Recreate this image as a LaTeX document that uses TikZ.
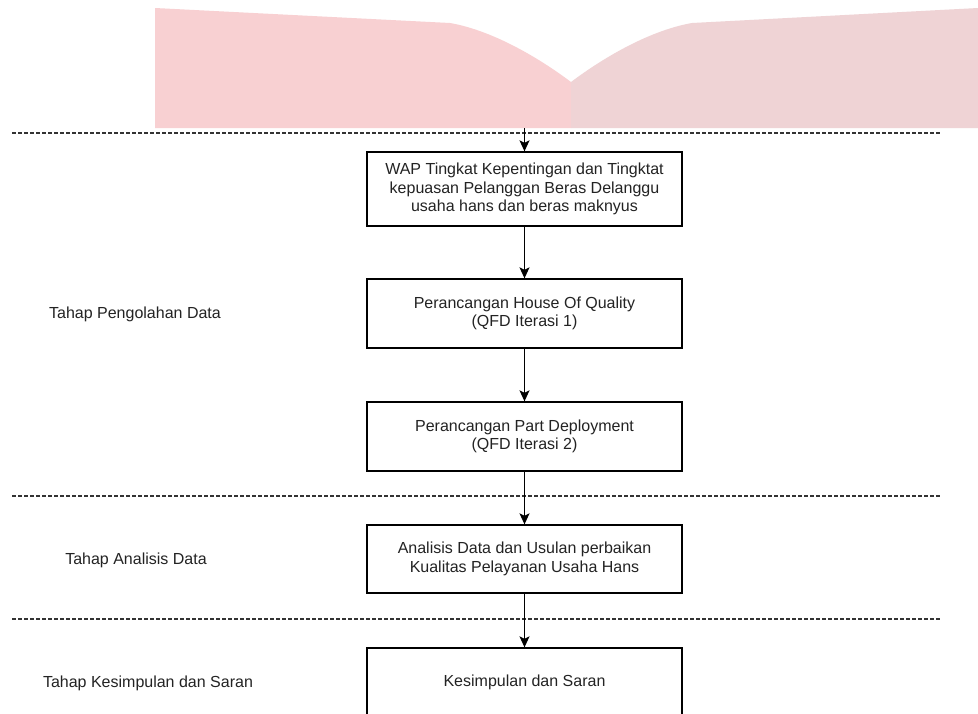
\documentclass[tikz,border=0pt]{standalone}
\usepackage{fontspec}
\setmainfont{Liberation Sans}
\usetikzlibrary{arrows.meta}
\definecolor{pinkL}{RGB}{248,208,210}
\definecolor{pinkR}{RGB}{239,211,213}
\definecolor{txt}{RGB}{35,35,35}
\begin{document}
\begin{tikzpicture}[x=1pt,y=-1pt,
  stepbox/.style={draw=black,line width=1.3pt,minimum width=315pt,align=center,text=txt,
    font=\fontsize{16}{18.5}\selectfont,inner sep=0pt},
  phase/.style={text=txt,font=\fontsize{16}{18.5}\selectfont,inner sep=0pt},
  sep/.style={line width=1.2pt,dash pattern=on 3.5pt off 2.5pt,draw=black!80},
  flow/.style={line width=1.3pt,-{Stealth[length=11pt,width=10pt,inset=2.5pt]}}]
\clip (0,0) rectangle (978,713);
\fill[white] (0,0) rectangle (978,713);
% pink top shape
\fill[pinkL] (155,8) -- (450,23) .. controls (490,30) and (535,55) .. (571,82) -- (571,128) -- (155,128) -- cycle;
\fill[pinkR] (571,82) .. controls (607,55) and (652,30) .. (692,23) -- (978,8) -- (978,128) -- (571,128) -- cycle;
% separators
\draw[sep] (12,133) -- (941,133);
\draw[sep] (12,496) -- (941,496);
\draw[sep] (12,619) -- (941,619);
% boxes
\node[stepbox,minimum height=74pt] (b1) at (524.5,189) {WAP Tingkat Kepentingan dan Tingktat\\kepuasan Pelanggan Beras Delanggu\\usaha hans dan beras maknyus};
\node[stepbox,minimum height=69pt] (b2) at (524.5,313.5) {Perancangan House Of Quality\\(QFD Iterasi 1)};
\node[stepbox,minimum height=69pt] (b3) at (524.5,436.5) {Perancangan Part Deployment\\(QFD Iterasi 2)};
\node[stepbox,minimum height=68pt] (b4) at (524.5,559) {Analisis Data dan Usulan perbaikan\\Kualitas Pelayanan Usaha Hans};
\node[stepbox,minimum height=68pt] (b5) at (524.5,682) {Kesimpulan dan Saran};
% phase labels
\node[phase] (p1) at (135,314) {Tahap Pengolahan Data};
\node[phase] (p2) at (136,560) {Tahap Analisis Data};
\node[phase] (p3) at (148,683) {Tahap Kesimpulan dan Saran};
% arrows
\coordinate (top) at (524.5,128);
\draw[flow] (top) -- (b1.north);
\draw[flow] (b1.south) -- (b2.north);
\draw[flow] (b2.south) -- (b3.north);
\draw[flow] (b3.south) -- (b4.north);
\draw[flow] (b4.south) -- (b5.north);
\end{tikzpicture}
\end{document}
